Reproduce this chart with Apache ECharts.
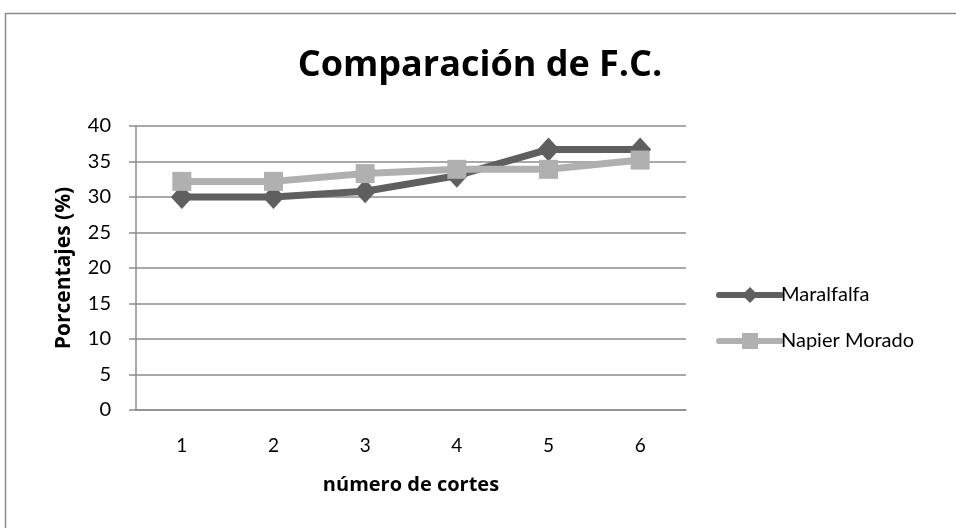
<!DOCTYPE html>
<html>
<head>
<meta charset="utf-8">
<script src="https://cdn.jsdelivr.net/npm/echarts@6/dist/echarts.min.js"></script>
<style>
  html, body { margin: 0; padding: 0; background: #ffffff; }
  #chart { width: 956px; height: 528px; }
</style>
</head>
<body>
<div id="chart"></div>
<script>
// Cuttings (número de cortes) along the x axis
const cortes = ['1', '2', '3', '4', '5', '6'];
// F.C. percentages per cutting
const maralfalfa = [30.0, 30.0, 30.8, 33.0, 36.7, 36.7];
const napierMorado = [32.2, 32.2, 33.3, 33.9, 33.9, 35.2];

const FONT = 'Lato, "Open Sans", sans-serif';
const BOLD_FONT = '"Open Sans", Lato, sans-serif';
const DARK = '#5f5f5f';
const LIGHT = '#b0b0b0';
const AXIS = '#8c8c8c';

const chart = echarts.init(document.getElementById('chart'), null, { renderer: 'canvas' });

chart.setOption({
  backgroundColor: '#ffffff',
  animation: false,
  title: {
    text: 'Comparación de F.C.',
    left: 475,
    textAlign: 'center',
    top: 43,
    textStyle: { fontFamily: BOLD_FONT, fontSize: 36, fontWeight: 'bold', color: '#000000' }
  },
  graphic: [{
    type: 'rect',
    shape: { x: 5.5, y: 13.5, width: 960, height: 530 },
    style: { fill: 'none', stroke: AXIS, lineWidth: 1.5 },
    silent: true
  }],
  legend: {
    orient: 'vertical',
    left: 711,
    top: 280,
    itemWidth: 62,
    itemHeight: 20,
    itemGap: 26,
    lineStyle: { width: 6, cap: 'round' },
    textStyle: { fontFamily: FONT, fontSize: 20, color: '#000000', padding: [0, 0, 0, -5] },
    data: ['Maralfalfa', 'Napier Morado']
  },
  grid: { left: 136, top: 126, right: 270, bottom: 118, containLabel: false },
  xAxis: {
    type: 'category',
    data: cortes,
    boundaryGap: true,
    name: 'número de cortes',
    nameLocation: 'middle',
    nameGap: 65,
    nameTextStyle: { fontFamily: BOLD_FONT, fontSize: 20, fontWeight: 'bold', color: '#000000' },
    axisLine: { lineStyle: { color: AXIS, width: 1.5 } },
    axisTick: { show: false },
    axisLabel: { fontFamily: FONT, fontSize: 19, color: '#000000', margin: 26 }
  },
  yAxis: {
    type: 'value',
    min: 0,
    max: 40,
    interval: 5,
    name: 'Porcentajes (%)',
    nameLocation: 'middle',
    nameGap: 61,
    nameRotate: 90,
    nameTextStyle: { fontFamily: BOLD_FONT, fontSize: 21, fontWeight: 'bold', color: '#000000' },
    axisLine: { show: true, lineStyle: { color: AXIS, width: 1.5 } },
    axisTick: { show: true, length: 7, lineStyle: { color: AXIS, width: 1.5 } },
    axisLabel: { fontFamily: FONT, fontSize: 20, color: '#000000', margin: 25 },
    splitLine: { show: true, lineStyle: { color: AXIS, width: 1.5 } }
  },
  series: [
    {
      name: 'Maralfalfa',
      type: 'line',
      data: maralfalfa,
      symbol: 'diamond',
      symbolSize: [22, 24],
      lineStyle: { color: DARK, width: 7 },
      itemStyle: { color: DARK },
      z: 2
    },
    {
      name: 'Napier Morado',
      type: 'line',
      data: napierMorado,
      symbol: 'rect',
      symbolSize: 19,
      lineStyle: { color: LIGHT, width: 7 },
      itemStyle: { color: LIGHT },
      z: 3
    }
  ]
});
</script>
</body>
</html>
